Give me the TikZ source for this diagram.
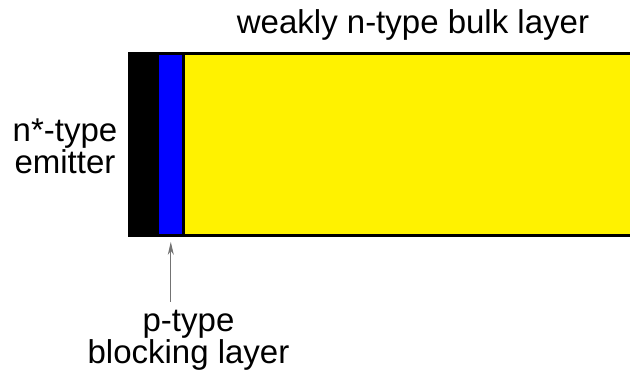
\documentclass[tikz,border=0pt]{standalone}
\usepackage{fontspec}
\setmainfont{Liberation Sans}
\usetikzlibrary{arrows.meta}

\tikzset{
  lbl/.style={anchor=base, inner sep=0pt, font=\fontsize{33}{32}\selectfont},
  pointer/.style={draw=black!55, line width=1pt,
    -{Stealth[length=13pt, width=6pt, inset=4pt]}},
  edge/.style={line width=3pt, line cap=butt},
  layer/.style={draw=none, inner sep=0pt, minimum width=23pt, minimum height=182pt}
}

\begin{document}
\begin{tikzpicture}[x=1pt, y=-1pt]
  \useasboundingbox (0,0) rectangle (630,374);
  \clip (0,0) rectangle (630,374);

  % weakly doped bulk region, running off to the right
  \fill[yellow] (128,53.8) rectangle (645,235.5);

  % heavily doped emitter
  \fill[black] (127.5,53.8) rectangle (160,235.5);

  % thin p-type blocking layer
  \node[layer, fill=blue] (block) at (170.8,144.65) {};
  \draw[line width=2.5pt] (183.7,53.8) -- (183.7,235.5);

  % outline of the device
  \draw[edge] (645,53.8) -- (129,53.8) -- (129,235.5) -- (645,235.5);

  % labels
  \node[lbl] (bulk) at (413,33.3) {weakly n-type bulk layer};
  \node[lbl] (emit1) at (65,141.3) {n*-type};
  \node[lbl] (emit2) at (65,173.3) {emitter};
  \node[lbl] (ptype1) at (188.5,331.7) {p-type};
  \node[lbl] (ptype2) at (188.5,363.3) {blocking layer};

  % pointer to the blocking layer
  \coordinate (tail) at (170.8,301.7);
  \coordinate (tip) at ([yshift=-6pt]block.south);
  \draw[pointer] (tail) -- (tip);
\end{tikzpicture}
\end{document}
